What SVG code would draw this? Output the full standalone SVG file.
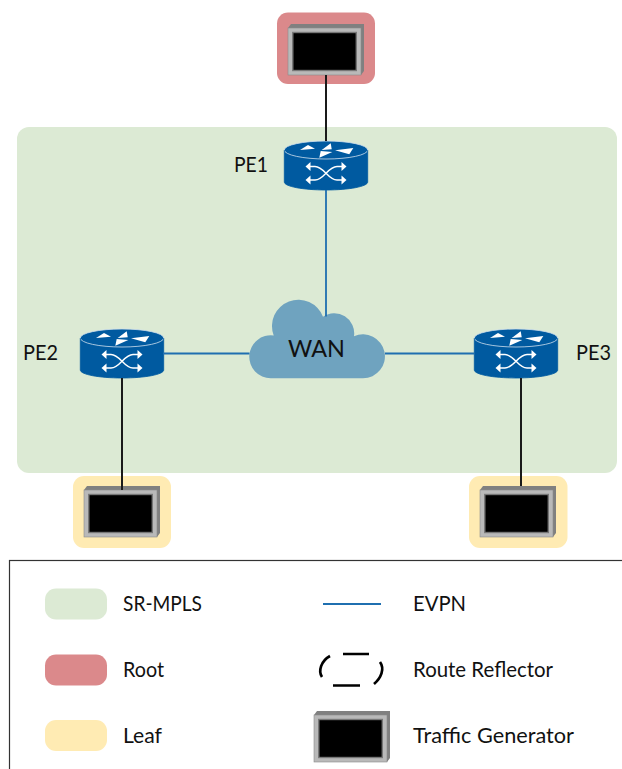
<svg xmlns="http://www.w3.org/2000/svg" width="622" height="769" viewBox="0 0 622 769">
<style>
text{font-family:"Lato","Liberation Sans",sans-serif;font-size:22px;fill:#111}
.blue{stroke:#1f6fb0;stroke-width:1.8;fill:none}
.blk{stroke:#1a1a1a;stroke-width:2;fill:none}
.wa{fill:none;stroke:#fff;stroke-width:1.4}
</style>
<defs>
<g id="router">
<path d="M-41.700 9V41C-41.700 45.500 -23 49 0 49S41.700 45.500 41.700 41V9Z" fill="#005aa0"/>
<ellipse cx="0" cy="9" rx="41.700" ry="9" fill="#005aa0" stroke="#cfe0ee" stroke-width="0.800"/>
<path d="M-41.700 9V41C-41.700 45.500 -23 49 0 49S41.700 45.500 41.700 41V9" fill="none" stroke="#005aa0" stroke-width="0.800"/>
<g fill="#fff">
<polygon points="-26,9 -18,4 -11,7.700"/>
<polygon points="-4.300,9 4.700,2.300 5.700,8.300"/>
<polygon points="-6.700,16.700 -5.300,10 6.300,11"/>
<polygon points="9,9.300 27.300,7 23.300,13.300"/>
</g>
<path class="wa" d="M-17 25.500H-11C-2 25.500 2 39 11 39H17M-17 39H-11C-2 39 2 25.500 11 25.500H17"/>
<g fill="#fff">
<polygon points="-20.500,25.500 -15.500,21 -15.500,30"/>
<polygon points="20.500,25.500 15.500,21 15.500,30"/>
<polygon points="-20.500,39 -15.500,34.500 -15.500,43.500"/>
<polygon points="20.500,39 15.500,34.500 15.500,43.500"/>
</g>
</g>
<g id="tg">
<polygon points="0,4 3,0 76,0 76,47 73,51 73,4" fill="#808080"/>
<rect x="0" y="4" width="73" height="47" fill="#b9b9b9" stroke="#8a8a8a" stroke-width="0.600"/>
<rect x="4.800" y="8.500" width="63.500" height="38" fill="#000" stroke="#777" stroke-width="1.400"/>
</g>
</defs>

<rect x="17" y="127" width="600" height="346" rx="12" fill="#dcead4"/>
<rect x="277" y="12.500" width="98" height="71.500" rx="11" fill="#db898b"/>
<rect x="73" y="476" width="98" height="72" rx="11" fill="#ffebb3"/>
<rect x="469" y="476" width="98.500" height="72" rx="11" fill="#ffebb3"/>
<rect x="9.500" y="560.500" width="640" height="240" fill="#fff" stroke="#333" stroke-width="1.200"/>

<g id="PE1"><use href="#router" x="326" y="141"/><text x="234" y="172" textLength="34" lengthAdjust="spacingAndGlyphs">PE1</text></g>
<g id="PE2"><use href="#router" x="122" y="329"/><text x="23" y="360" textLength="35" lengthAdjust="spacingAndGlyphs">PE2</text></g>
<g id="PE3"><use href="#router" x="516" y="329"/><text x="576" y="360" textLength="35" lengthAdjust="spacingAndGlyphs">PE3</text></g>
<g id="WAN">
<path fill="#6fa3bf" d="M270.800 378.300A21.500 21.500 0 1 1 273.700 335.500A26 26 0 1 1 323 316.700A20 20 0 0 1 354 336.200A22 22 0 1 1 363 378.300Z"/>
<text x="288" y="356.500" style="font-size:23px" textLength="57" lengthAdjust="spacingAndGlyphs">WAN</text>
</g>
<g id="tg-root"><use href="#tg" x="288" y="24"/></g>
<g id="tg-leaf1"><use href="#tg" x="84" y="486"/></g>
<g id="tg-leaf2"><use href="#tg" x="480" y="486"/></g>

<g id="connectors">
<path class="blk" d="M326 75V141M122 378V490M521 378V486"/>
<path class="blue" d="M326 190V316.500M163 353.500H249.500M385 353.500H474.500"/>
</g>

<g id="legend">
<rect x="45" y="588.500" width="62" height="31" rx="11" fill="#dcead4"/>
<rect x="45" y="654.500" width="62" height="31" rx="11" fill="#db898b"/>
<rect x="45" y="720" width="62" height="31" rx="11" fill="#ffebb3"/>
<text x="123" y="611" textLength="79" lengthAdjust="spacingAndGlyphs">SR-MPLS</text>
<text x="123" y="677" textLength="41" lengthAdjust="spacingAndGlyphs">Root</text>
<text x="123" y="743" textLength="39" lengthAdjust="spacingAndGlyphs">Leaf</text>
<path class="blue" d="M323 604H381"/>
<path d="M343 654H369M333 685.500H360M330 656C321 661 318 671 322 677M380 662C385 669 381 678 374 684" fill="none" stroke="#000" stroke-width="2.700"/>
<use href="#tg" x="314" y="711"/>
<text x="413" y="611" textLength="53" lengthAdjust="spacingAndGlyphs">EVPN</text>
<text x="413" y="677" textLength="140" lengthAdjust="spacingAndGlyphs">Route Reflector</text>
<text x="413" y="743" textLength="161" lengthAdjust="spacingAndGlyphs">Traffic Generator</text>
</g>
</svg>
